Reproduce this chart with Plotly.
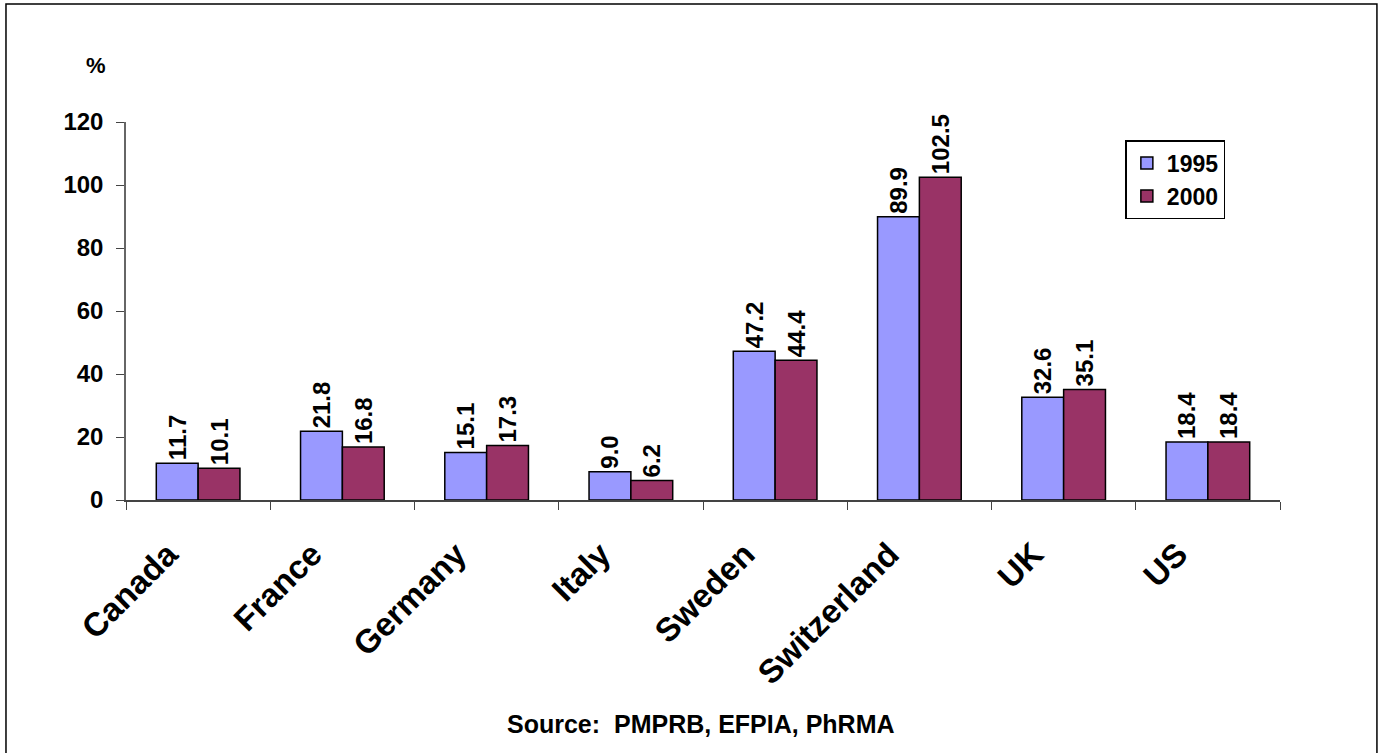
import plotly.graph_objects as go

countries = ["Canada", "France", "Germany", "Italy", "Sweden", "Switzerland", "UK", "US"]
vals_1995 = [11.7, 21.8, 15.1, 9.0, 47.2, 89.9, 32.6, 18.4]
vals_2000 = [10.1, 16.8, 17.3, 6.2, 44.4, 102.5, 35.1, 18.4]
y_ticks = [0, 20, 40, 60, 80, 100, 120]

FONT = "Liberation Sans, Arial, sans-serif"

fig = go.Figure()
for name, vals, color in [("1995", vals_1995, "#9999FF"), ("2000", vals_2000, "#993366")]:
    fig.add_trace(
        go.Bar(
            x=countries,
            y=vals,
            name=f"<b>{name}</b>",
            marker=dict(color=color, line=dict(color="black", width=1.5)),
            text=[f"{v:.1f}" for v in vals],
            texttemplate="<b>%{text}</b>",
            textposition="outside",
            textangle=-90,
            constraintext="none",
            textfont=dict(family=FONT, size=24, color="black"),
            cliponaxis=False,
        )
    )

fig.update_layout(
    width=1382,
    height=753,
    paper_bgcolor="white",
    plot_bgcolor="white",
    barmode="group",
    bargap=0.42,
    bargroupgap=0,
    margin=dict(l=126, r=102, t=122, b=253),
    font=dict(family=FONT, color="black"),
    showlegend=True,
    legend=dict(
        x=0.866, y=0.952, xanchor="left", yanchor="top",
        bordercolor="black", borderwidth=1.5,
        font=dict(family=FONT, size=23, color="black"),
        itemwidth=30, tracegroupgap=0,
    ),
    xaxis=dict(
        tickvals=countries, ticktext=[f"<b>{c}</b>" for c in countries],
        showline=True, linecolor="#444", linewidth=1.5,
        ticks="outside", tickson="boundaries", ticklen=8, tickcolor="#444",
        tickangle=-45, ticklabelstandoff=20, ticklabelshift=-30,
        tickfont=dict(family=FONT, size=33, color="black"),
    ),
    yaxis=dict(
        range=[0, 120], tickvals=y_ticks, ticktext=[f"<b>{t}</b>" for t in y_ticks],
        showline=True, linecolor="#666", linewidth=1.5,
        ticks="outside", ticklen=8, tickcolor="#444", ticklabelstandoff=8,
        showgrid=False, zeroline=False,
        tickfont=dict(family=FONT, size=24, color="black"),
    ),
)

fig.add_annotation(text="<b>%</b>", xref="paper", yref="paper", x=-0.0365, y=1.187,
                   showarrow=False, font=dict(size=22, family=FONT))
fig.add_annotation(text="<b>Source:  PMPRB, EFPIA, PhRMA</b>", xref="paper", yref="paper",
                   x=0.498, y=-0.636, showarrow=False, font=dict(size=25, family=FONT))

# frame around the whole chart
fig.add_shape(type="rect", xref="paper", yref="paper", x0=-0.104, x1=1.084, y0=-0.72, y1=1.312,
              line=dict(color="black", width=1.5))

# drop the default body margin so the figure sits at the page corner
fig.write_html("out.html", config={"displayModeBar": False},
               post_script="document.body.style.margin='0';")
